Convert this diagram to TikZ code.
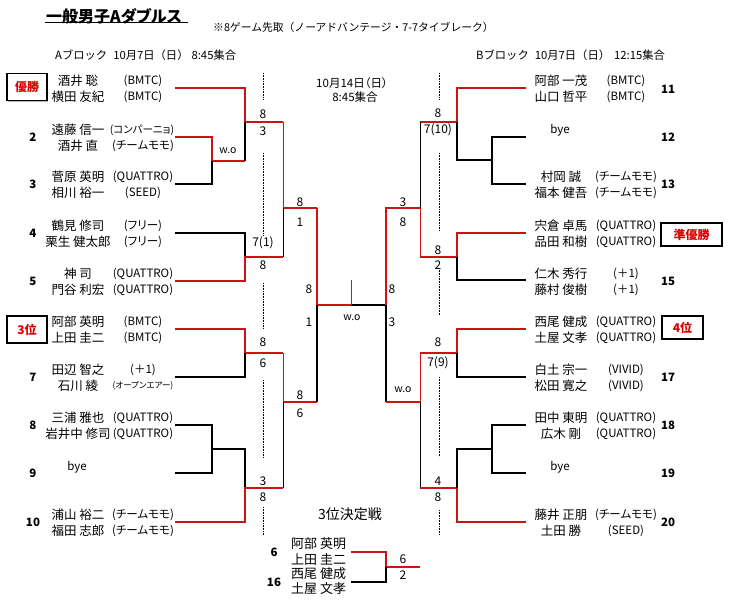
\documentclass[tikz,border=0pt]{standalone}
\usepackage{fontspec}
\setmainfont{Noto Sans CJK JP}[RawFeature=+palt]
\newfontfamily\fixedgothic{Noto Sans CJK JP}
\usetikzlibrary{shadows}
\definecolor{winred}{RGB}{205,20,20}
\definecolor{rankred}{RGB}{220,0,0}

\begin{document}
\begin{tikzpicture}[x=1pt,y=-1pt,
	win/.style={draw=winred,line width=1.6pt},
	lose/.style={draw=black,line width=1.6pt},
	thinwin/.style={draw=winred,line width=1pt},
	thinlose/.style={draw=black,line width=1pt},
	pname/.style={inner sep=0pt,font=\fontsize{12.5}{13}\selectfont},
	club/.style={inner sep=0pt,font=\fontsize{11.5}{12}\selectfont},
	seed/.style={inner sep=0pt,font=\fontsize{11.5}{12}\selectfont\bfseries},
	score/.style={inner sep=0pt,font=\fontsize{12}{12}\selectfont},
	rankbox/.style={draw,line width=1.3pt,fill=white,inner sep=0pt,text=rankred,
		font=\fontsize{12}{12}\selectfont\bfseries,
		drop shadow={shadow xshift=1.2pt,shadow yshift=-1.2pt,fill=gray!60,opacity=1}}]
	
	\useasboundingbox (0,0) rectangle (731,604);
	
	% titles
	\node[anchor=west,inner sep=0pt,font=\fontsize{16}{16}\selectfont\bfseries] (title) at (46,16) {一般男子Aダブルス};
	\draw[line width=1pt] (45,23) -- (188,23);
	\node[anchor=west,inner sep=0pt,font=\fixedgothic\fontsize{10.8}{10}\selectfont] (rule) at (213,27) {※8ゲーム先取（ノーアドバンテージ・7-7タイブレーク）};
	\node[anchor=west,inner sep=0pt,font=\fixedgothic\fontsize{11.3}{12}\selectfont] (blockA) at (55,55) {Aブロック\hspace{6pt}10月7日（日）\hspace{3pt}8:45集合};
	\node[anchor=west,inner sep=0pt,font=\fixedgothic\fontsize{11.3}{12}\selectfont] (blockB) at (476,55) {Bブロック\hspace{6pt}10月7日（日）\hspace{4pt}12:15集合};
	\node[inner sep=0pt,font=\fontsize{11.5}{11}\selectfont] (day2) at (352,83) {10月14日（日）};
	\node[inner sep=0pt,font=\fontsize{11.5}{11}\selectfont] (time2) at (355,97) {8:45集合};
	
	% dotted guides
	\foreach \a/\b in {73/100,153/235,283/328,380/457,507/535}
		\draw[densely dotted,line width=0.6pt] (263,\a) -- (263,\b);
	\foreach \a/\b in {73/100,153/230,268/315,377/457,510/535}
		\draw[densely dotted,line width=0.6pt] (439,\a) -- (439,\b);
	
	% A block teams
	\foreach \id/\y/\a/\ca/\b/\cb in {
		1/88/酒井 聡/(BMTC)/横田 友紀/(BMTC),
		3/184/菅原 英明/(QUATTRO)/相川 裕一/(SEED),
		4/233/鶴見 修司/(フリー)/栗生 健太郎/(フリー),
		5/281/神 司/(QUATTRO)/門谷 利宏/(QUATTRO),
		6/329/阿部 英明/(BMTC)/上田 圭二/(BMTC),
		8/425/三浦 雅也/(QUATTRO)/岩井中 修司/(QUATTRO),
		10/522/浦山 裕二/(チームモモ)/福田 志郎/(チームモモ)}
	{
		\node[pname] (A\id-1) at (78,\y-7) {\a};
		\node[club] (A\id-c1) at (143,\y-7) {\ca};
		\node[pname] (A\id-2) at (78,\y+8.5) {\b};
		\node[club] (A\id-c2) at (143,\y+8.5) {\cb};
	}
	\node[pname] (A2-1) at (78,130) {遠藤 信一};
	\node[club,font=\fontsize{10.5}{11}\selectfont] (A2-c1) at (142,130) {(コンパーニョ)};
	\node[pname] (A2-2) at (78,145.5) {酒井 直};
	\node[club] (A2-c2) at (143,145.5) {(チームモモ)};
	\node[pname] (A7-1) at (78,370) {田辺 智之};
	\node[club] (A7-c1) at (143,370) {(＋1)};
	\node[pname] (A7-2) at (78,385.5) {石川 綾};
	\node[club,font=\fontsize{8.5}{8}\selectfont] (A7-c2) at (143,385.5) {(オープンエアー)};
	\node[club] (A9) at (77,467) {bye};
	\foreach \n/\y in {2/137,3/184,4/233,5/281,7/377,8/425,9/473,10/522}
		\node[seed] (sA\n) at (33,\y) {\n};
	
	% B block teams
	\foreach \id/\y/\a/\ca/\b/\cb in {
		11/88/阿部 一茂/(BMTC)/山口 哲平/(BMTC),
		13/184/村岡 誠/(チームモモ)/福本 健吾/(チームモモ),
		14/233/宍倉 卓馬/(QUATTRO)/品田 和樹/(QUATTRO),
		15/281/仁木 秀行/(＋1)/藤村 俊樹/(＋1),
		16/329/西尾 健成/(QUATTRO)/土屋 文孝/(QUATTRO),
		17/377/白土 宗一/(VIVID)/松田 寛之/(VIVID),
		18/425/田中 東明/(QUATTRO)/広木 剛/(QUATTRO),
		20/522/藤井 正朋/(チームモモ)/土田 勝/(SEED)}
	{
		\node[pname] (B\id-1) at (561,\y-7) {\a};
		\node[club] (B\id-c1) at (626,\y-7) {\ca};
		\node[pname] (B\id-2) at (561,\y+8.5) {\b};
		\node[club] (B\id-c2) at (626,\y+8.5) {\cb};
	}
	\node[club] (B12) at (560,130) {bye};
	\node[club] (B19) at (560,467) {bye};
	\foreach \n/\y in {11/89,12/137,13/184,15/281,17/377,18/425,19/473,20/522}
		\node[seed] (sB\n) at (668,\y) {\n};
	
	% rank boxes
	\node[rankbox,minimum width=40pt,minimum height=27pt] (champ) at (27,87) {優勝};
	\node[rankbox,minimum width=40pt,minimum height=27pt] (third) at (27,329.5) {3位};
	\node[rankbox,minimum width=61pt,minimum height=23pt] (second) at (691.5,234.5) {準優勝};
	\node[rankbox,minimum width=41pt,minimum height=23pt] (fourth) at (682.5,327.5) {4位};
	
	% A block bracket
	\draw[win] (175,137) -| (212,161) -- (245,161);
	\draw[lose] (175,184) -| (212,161);
	\draw[win] (175,88) -| (245,122) -- (283,122);
	\draw[lose] (245,161) -- (245,122);
	\draw[lose] (175,233) -| (245,257);
	\draw[win] (175,281) -| (245,257) -- (283,257);
	\draw[win] (175,329) -| (245,353) -- (283,353);
	\draw[lose] (175,377) -| (245,353);
	\draw[lose] (175,425) -| (212,473) -- (175,473);
	\draw[lose] (212,449) -| (245,488);
	\draw[win] (175,522) -| (245,488) -- (283,488);
	\draw[thinwin] (283,122) -- (283,208);
	\draw[win] (283,208) -- (317,208);
	\draw[thinlose] (283,257) -- (283,208);
	\draw[thinwin] (283,353) -- (283,402);
	\draw[win] (283,402) -- (317,402);
	\draw[thinlose] (283,488) -- (283,402);
	\draw[win] (317,208) |- (351,305);
	\draw[lose] (317,402) -- (317,305);
	
	% final
	\draw[lose] (351,305) -- (386,305) -- (386,402);
	\draw[thinwin] (351,280) -- (351,305);
	\draw[win] (386,305) -- (386,208) -- (420,208);
	
	% B block bracket
	\draw[win] (526,88) -| (457,122) -- (420,122);
	\draw[lose] (457,122) |- (492,160);
	\draw[lose] (526,137) -| (492,184) -- (526,184);
	\draw[thinlose] (420,122) -- (420,208);
	\draw[thinwin] (420,208) -- (420,257);
	\draw[win] (526,233) -| (457,257) -- (420,257);
	\draw[lose] (457,257) |- (526,280);
	\draw[win] (526,329) -| (457,353) -- (420,353);
	\draw[lose] (526,377) -| (457,353);
	\draw[thinwin] (420,353) -- (420,402);
	\draw[win] (420,402) -- (386,402);
	\draw[thinlose] (420,402) -- (420,488);
	\draw[win] (526,522) -| (457,488) -- (420,488);
	\draw[lose] (457,488) |- (492,449);
	\draw[lose] (526,425) -| (492,473) -- (526,473);
	
	% scores
	\foreach \x/\y/\s in {263/114/8,263/131/3,263/243/7(1),263/265/8,263/342/8,263/363/6,263/481/3,263/497/8,
		300/202/8,300/222/1,300/395/8,300/413/6,309/289/8,309/322/1,392/289/8,392/322/3,
		403/202/3,403/222/8,438/113/8,438/130/7(10),438/250/8,438/265/2,438/342/8,438/363/7(9),
		438/481/4,438/497/8,403/559/6,403/575/2}
		\node[score] at (\x,\y) {\s};
	\node[club,font=\fontsize{10.5}{10}\selectfont] (wo1) at (228,151) {w.o};
	\node[club,font=\fontsize{10.5}{10}\selectfont] (wo2) at (352,318) {w.o};
	\node[club,font=\fontsize{10.5}{10}\selectfont] (wo3) at (403,390) {w.o};
	
	% 3rd place match
	\node[inner sep=0pt,font=\fontsize{14}{14}\selectfont] (bronze) at (350,514) {3位決定戦};
	\node[seed] (s6) at (274,552) {6};
	\node[seed] (s16) at (274,582) {16};
	\foreach \y/\t in {544/阿部 英明,559/上田 圭二,574/西尾 健成,589/土屋 文孝}
		\node[pname,anchor=west,font=\fontsize{13}{14}\selectfont] at (291,\y) {\t};
	\draw[win] (351,552) -| (386,567) -- (420,567);
	\draw[lose] (351,582) -| (386,567);
\end{tikzpicture}
\end{document}
